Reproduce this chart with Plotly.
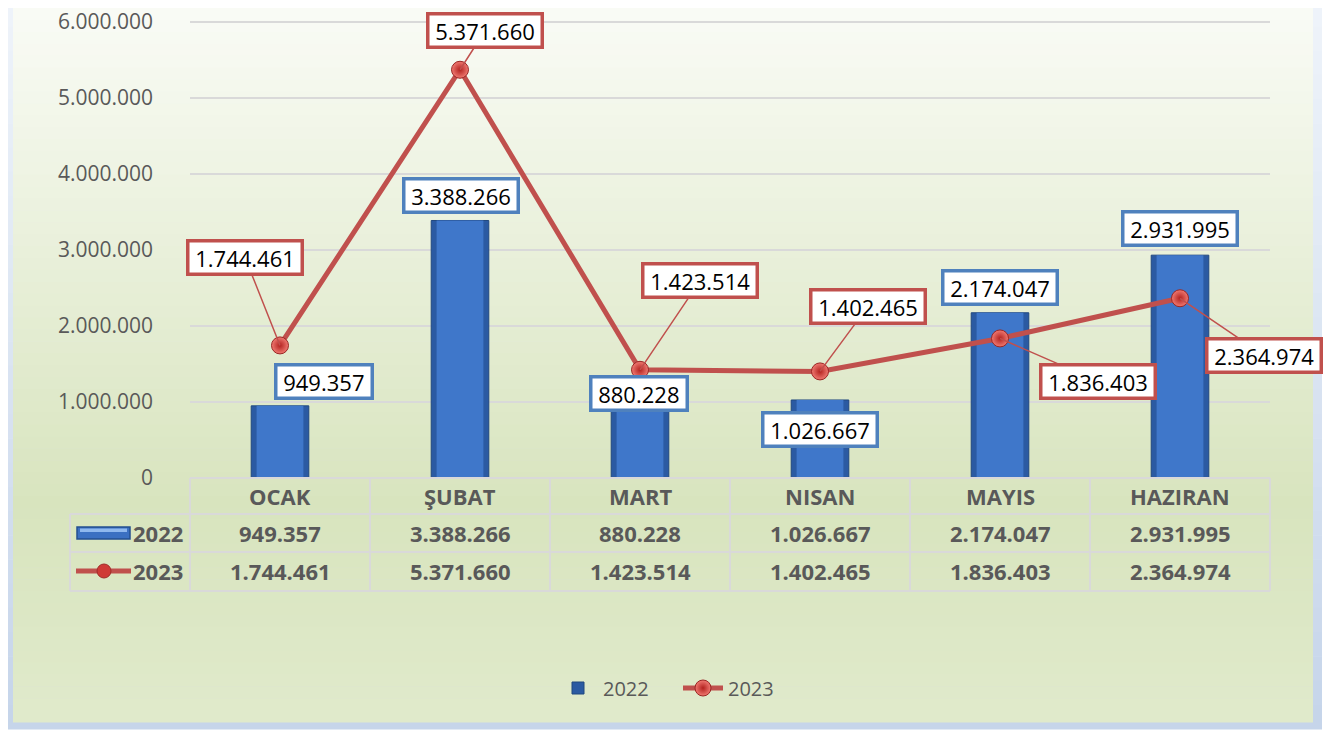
import plotly.graph_objects as go

months = ["OCAK", "ŞUBAT", "MART", "NISAN", "MAYIS", "HAZIRAN"]
v2022 = [949357, 3388266, 880228, 1026667, 2174047, 2931995]
v2023 = [1744461, 5371660, 1423514, 1402465, 1836403, 2364974]
y_ticks = [0, 1000000, 2000000, 3000000, 4000000, 5000000, 6000000]

# label offsets (pixels) - styling only
off2022 = [(44, 24), (1, 25), (-1, 18), (0, -30), (0, 25), (0, 27)]
off2023 = [(-35, -88), (25, -39), (60, -89), (48, -65), (98, 43), (84, 57)]

BODY = 8  # default page margin of the html body
W, H = 1331 - BODY, 731 - BODY
PL, PR, PT, PB = 190, 1270, 20, 478   # plot area in page pixels
L, R, T, B = PL - BODY, 1331 - PR, PT - BODY, 731 - PB
PW, PH = PR - PL, PB - PT
YTOP = 6000000 * PH / (PB - 22)   # 6.000.000 lands at page y=22


def px(x):
    return (x - PL) / PW


def py(y):
    return (PB - y) / PH


def fmt(v):
    return f"{v:,}".replace(",", ".")


def lerp(c1, c2, t):
    t = max(0.0, min(1.0, t))
    return "rgb(%d,%d,%d)" % tuple(round(a + (b - a) * t) for a, b in zip(c1, c2))


shapes = []
# outer frame gradient
N = 30
y0, y1 = 2, 729
for i in range(N):
    ya = y0 + (y1 - y0) * i / N
    yb = y0 + (y1 - y0) * (i + 1) / N + 0.5
    shapes.append(dict(type="rect", xref="paper", yref="paper", layer="below",
                       x0=px(4), x1=px(1322), y0=py(ya), y1=py(yb),
                       fillcolor=lerp((238, 243, 250), (198, 213, 234), i / (N - 1)),
                       line=dict(width=0)))
# inner background gradient
N = 60
y0, y1 = 8, 722
top, mid, bot = (249, 251, 245), (216, 228, 190), (224, 234, 203)
for i in range(N):
    ya = y0 + (y1 - y0) * i / N
    yb = y0 + (y1 - y0) * (i + 1) / N + 0.5
    t = i / (N - 1)
    col = lerp(top, mid, t / 0.7) if t < 0.7 else lerp(mid, bot, (t - 0.7) / 0.3)
    shapes.append(dict(type="rect", xref="paper", yref="paper", layer="below",
                       x0=px(13), x1=px(1313), y0=py(ya), y1=py(yb),
                       fillcolor=col, line=dict(width=0)))

grid = "#d9d9d9"
# table lines
for yy, xa in [(478, 190), (514, 70), (552, 70), (591, 70)]:
    shapes.append(dict(type="line", xref="paper", yref="paper", x0=px(xa), x1=px(1270),
                       y0=py(yy), y1=py(yy), line=dict(color=grid, width=2)))
shapes.append(dict(type="line", xref="paper", yref="paper", x0=px(70), x1=px(70),
                   y0=py(514), y1=py(591), line=dict(color=grid, width=2)))
for k in range(len(months) + 1):
    xx = 190 + 180 * k
    shapes.append(dict(type="line", xref="paper", yref="paper", x0=px(xx), x1=px(xx),
                       y0=py(478), y1=py(591), line=dict(color=grid, width=2)))
# table legend keys
shapes.append(dict(type="rect", xref="paper", yref="paper", x0=px(77), x1=px(130),
                   y0=py(527), y1=py(539), fillcolor="#3b70c2",
                   line=dict(color="#244f90", width=1.5)))
shapes.append(dict(type="rect", xref="paper", yref="paper", x0=px(80), x1=px(127),
                   y0=py(528.5), y1=py(532), fillcolor="#8fb8ee", line=dict(width=0)))
shapes.append(dict(type="line", xref="paper", yref="paper", x0=px(76), x1=px(131),
                   y0=py(571), y1=py(571), line=dict(color="#c0504d", width=5)))
shapes.append(dict(type="circle", xref="paper", yref="paper", x0=px(97), x1=px(111),
                   y0=py(564), y1=py(578), fillcolor="#cf3a36",
                   line=dict(color="#a02c2a", width=1)))

annotations = []
gray = "#595959"
tfont = dict(family="Open Sans", size=22, color=gray)
for i, m in enumerate(months):
    for yy, txt in [(496, m), (533, fmt(v2022[i])), (571, fmt(v2023[i]))]:
        annotations.append(dict(x=m, xref="x", y=py(yy), yref="paper", text=f"<b>{txt}</b>",
                                xanchor="center", yanchor="middle", showarrow=False, font=tfont))
for yy, txt in [(533, "2022"), (571, "2023")]:
    annotations.append(dict(x=px(158), xref="paper", y=py(yy), yref="paper", text=f"<b>{txt}</b>",
                            xanchor="center", yanchor="middle", showarrow=False, font=tfont))

lfont = dict(family="Open Sans", size=22, color="black")
for i, m in enumerate(months):
    dx, dy = off2022[i]
    annotations.append(dict(x=m, y=v2022[i], xref="x", yref="y", text=" " + fmt(v2022[i]) + " ",
                            xanchor="center", yanchor="middle",
                            showarrow=False, xshift=dx, yshift=dy, font=lfont,
                            bgcolor="white", bordercolor="#4f81bd", borderwidth=3.5, borderpad=0))
for i, m in enumerate(months):
    dx, dy = off2023[i]
    annotations.append(dict(x=m, y=v2023[i], xref="x", yref="y", text=" " + fmt(v2023[i]) + " ",
                            showarrow=True, arrowhead=0, arrowwidth=1.5, arrowcolor="#c0504d",
                            ax=dx, ay=dy, standoff=0, font=lfont,
                            bgcolor="white", bordercolor="#c0504d", borderwidth=3.5, borderpad=0))

fig = go.Figure()
fig.add_trace(go.Bar(x=months, y=v2022, name="2022", width=0.32,
                     marker=dict(color="#2b5aa2", line=dict(color="#21487f", width=1))))
fig.add_trace(go.Bar(x=months, y=v2022, name="2022", width=0.26, showlegend=False,
                     marker=dict(color="#3f77ca", line=dict(width=0))))
fig.add_trace(go.Scatter(x=months, y=v2023, name="2023", mode="lines+markers",
                         line=dict(color="#c0504d", width=5),
                         marker=dict(size=17, color="#f07a72",
                                     gradient=dict(type="radial", color="#b3221f"),
                                     line=dict(color="#9a2523", width=1))))

fig.update_layout(
    width=W, height=H,
    margin=dict(l=L, r=R, t=T, b=B, autoexpand=False),
    paper_bgcolor="white", plot_bgcolor="rgba(0,0,0,0)",
    separators=",.",
    barmode="overlay",
    showlegend=True,
    legend=dict(orientation="h", x=px(678), xanchor="center", y=py(688), yanchor="middle",
                font=dict(family="Open Sans", size=20, color=gray), bgcolor="rgba(0,0,0,0)",
                itemwidth=40, tracegroupgap=0, entrywidth=70, entrywidthmode="pixels"),
    xaxis=dict(showticklabels=False, showgrid=False, zeroline=False, showline=False,
               range=[-0.5, len(months) - 0.5]),
    yaxis=dict(range=[0, YTOP], tickvals=y_ticks, tickformat=",d", ticklabeloverflow="allow",
               gridcolor=grid, gridwidth=1.5, zeroline=False, showline=False,
               tickfont=dict(family="Open Sans", size=21, color=gray), ticklabelstandoff=36),
    shapes=shapes, annotations=annotations,
    hovermode=False,
)

fig.write_html("out.html")
